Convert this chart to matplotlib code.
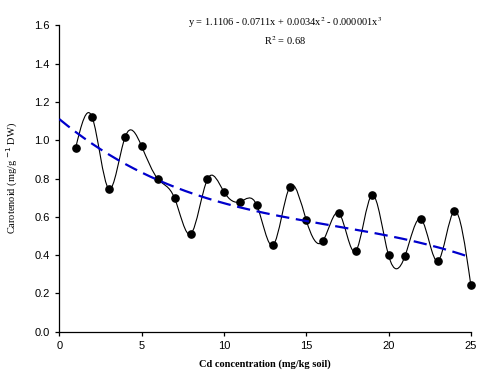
import numpy as np
import matplotlib
matplotlib.use("Agg")
import matplotlib.pyplot as plt
from matplotlib.path import Path
from matplotlib.patches import PathPatch

# Cd dose (mg/kg soil) and measured carotenoid (mg/g DW)
cd_dose = [1, 2, 3, 4, 5, 6, 7, 8, 9, 10, 11, 12, 13,
           14, 15, 16, 17, 18, 19, 20, 21, 22, 23, 24, 25]
carotenoid = [0.962, 1.120, 0.747, 1.017, 0.969, 0.796, 0.698, 0.511, 0.796,
              0.731, 0.679, 0.660, 0.453, 0.756, 0.583, 0.472, 0.618, 0.420,
              0.714, 0.399, 0.395, 0.586, 0.369, 0.630, 0.243]

# cubic trend coefficients, constant term first
trend_coef = [1.1106, -0.0711, 0.0034, -0.0000685]
trend_label = "y = 1.1106 - 0.0711x + 0.0034x$^2$ - 0.000001x$^3$"
r2_label = "R$^2$ = 0.68"

x_ticks = [0, 5, 10, 15, 20, 25]
y_ticks = [0.0, 0.2, 0.4, 0.6, 0.8, 1.0, 1.2, 1.4, 1.6]


def smooth_path(xs, ys):
    """Natural cubic spline through the points, as Bezier segments."""
    x = np.asarray(xs, float)
    y = np.asarray(ys, float)
    n = len(x)
    h = np.diff(x)
    A = np.zeros((n, n))
    r = np.zeros(n)
    A[0, 0] = A[-1, -1] = 1.0
    for i in range(1, n - 1):
        A[i, i - 1] = h[i - 1]
        A[i, i] = 2 * (h[i - 1] + h[i])
        A[i, i + 1] = h[i]
        r[i] = 6 * ((y[i + 1] - y[i]) / h[i] - (y[i] - y[i - 1]) / h[i - 1])
    M = np.linalg.solve(A, r)
    slope = np.empty(n)
    for i in range(n - 1):
        slope[i] = (y[i + 1] - y[i]) / h[i] - h[i] * (2 * M[i] + M[i + 1]) / 6
    slope[-1] = (y[-1] - y[-2]) / h[-1] + h[-1] * (M[-2] + 2 * M[-1]) / 6

    verts = [(x[0], y[0])]
    codes = [Path.MOVETO]
    for i in range(n - 1):
        d = h[i] / 3
        verts += [(x[i] + d, y[i] + slope[i] * d),
                  (x[i + 1] - d, y[i + 1] - slope[i + 1] * d),
                  (x[i + 1], y[i + 1])]
        codes += [Path.CURVE4] * 3
    return Path(verts, codes)


fig = plt.figure(figsize=(4.78, 3.79), dpi=100)
ax = fig.add_axes([0.124, 0.125, 0.861, 0.808])

# smoothed line through the measurements
ax.add_patch(PathPatch(smooth_path(cd_dose, carotenoid), facecolor="none",
                       edgecolor="black", linewidth=0.8, zorder=2))
ax.plot(cd_dose, carotenoid, linestyle="none", marker="o", markersize=5.2,
        color="black", zorder=3, clip_on=False)

# cubic trend line
xt = np.linspace(0, 25, 200)
yt = np.polynomial.polynomial.polyval(xt, trend_coef)
ax.plot(xt, yt, color="#0000CC", linewidth=1.6, dashes=(6, 3), zorder=4)

ax.set_xlim(0, 25)
ax.set_ylim(0, 1.6)
ax.set_xticks(x_ticks)
ax.set_yticks(y_ticks)
ax.set_yticklabels([f"{v:.1f}" for v in y_ticks])
for s in ("top", "right"):
    ax.spines[s].set_visible(False)
for s in ("left", "bottom"):
    ax.spines[s].set_linewidth(0.9)
ax.tick_params(direction="out", length=3, width=0.9, labelsize=8, pad=4)
for lab in ax.get_xticklabels() + ax.get_yticklabels():
    lab.set_family("Liberation Sans")

ax.set_xlabel("Cd concentration (mg/kg soil)", family="Liberation Serif",
              fontweight="bold", fontsize=7.5, labelpad=6)
ax.set_ylabel("Carotenoid (mg/g $^{-1}$ DW)", family="Liberation Serif",
              fontsize=7.5, labelpad=10)

fig.text(0.597, 0.941, trend_label, family="Liberation Serif", fontsize=7.5,
         ha="center", va="center", math_fontfamily="stix")
fig.text(0.597, 0.894, r2_label, family="Liberation Serif", fontsize=7.5,
         ha="center", va="center", math_fontfamily="stix")

fig.savefig("out.png", dpi=100)
